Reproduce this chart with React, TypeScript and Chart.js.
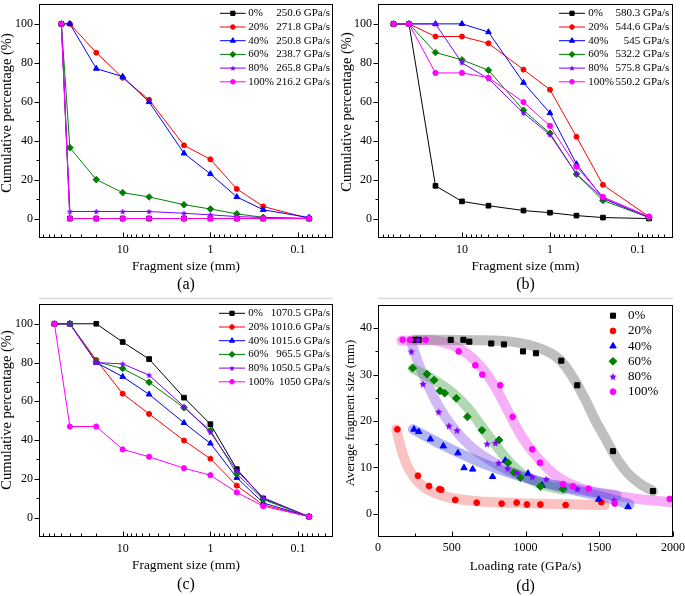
import React, { useEffect, useRef } from 'react';
import { Chart, registerables } from 'chart.js';

Chart.register(...registerables);

const FONT = '"Liberation Serif", "DejaVu Serif", serif';

// ---------- shared ----------
const groups = ['0%', '20%', '40%', '60%', '80%', '100%'];
const seriesColors = ['#000000', '#ff0000', '#0000ff', '#008000', '#8000ff', '#ff00ff'];
const bandColors = [
  'rgba(128,128,128,0.5)',
  'rgba(240,80,80,0.35)',
  'rgba(60,70,220,0.4)',
  'rgba(60,160,60,0.4)',
  'rgba(140,80,230,0.4)',
  'rgba(238,80,238,0.45)',
];

// ---------- panels (a)-(c): cumulative percentage vs fragment size ----------
const sizesA = [50, 40, 20, 10, 5, 2, 1, 0.5, 0.25, 0.075];
const sizesBC = [60, 40, 20, 10, 5, 2, 1, 0.5, 0.25, 0.075];

const a0 = [100, 0, 0, 0, 0, 0, 0, 0, 0, 0];
const a20 = [100, 100, 85.2, 72.3, 61, 37.6, 30.4, 15.2, 6.2, 0];
const a40 = [100, 100, 77, 72.9, 59.9, 33.5, 22.9, 11.1, 4.5, 0.5];
const a60 = [100, 36.4, 20, 13.3, 11.1, 7.1, 4.9, 2.4, 0.6, 0];
const a80 = [100, 3.6, 3.6, 3.6, 3.6, 2.7, 1.9, 1, 0.5, 0];
const a100 = [100, 0, 0, 0, 0, 0, 0, 0, 0, 0];
const ratesA = ['250.6', '271.8', '250.8', '238.7', '265.8', '216.2'];

const b0 = [100, 100, 16.8, 8.8, 6.6, 4.1, 3.0, 1.5, 0.5, 0];
const b20 = [100, 100, 93.5, 93.5, 90, 76.5, 66.2, 42, 17.3, 1];
const b40 = [100, 100, 100, 100, 95.8, 69.8, 54.2, 28, 10.4, 0.5];
const b60 = [100, 100, 85.3, 81.5, 76.2, 55.6, 43.8, 22.8, 9.3, 0.5];
const b80 = [100, 100, 100, 80, 71.8, 54.2, 43.1, 22.9, 10.5, 0.5];
const b100 = [100, 100, 74.8, 74.8, 72.4, 59.8, 47.6, 26.6, 11.1, 1];
const ratesB = ['580.3', '544.6', '545', '532.2', '575.8', '550.2'];

const c0 = [100, 100, 100, 90.6, 81.8, 61.9, 48.2, 25, 9.9, 0.5];
const c20 = [100, 100, 81.3, 63.9, 53.5, 39.8, 30.4, 16.5, 6.6, 0.5];
const c40 = [100, 100, 80, 72.7, 63.6, 48.9, 38.3, 20.6, 7.6, 0.5];
const c60 = [100, 100, 80.4, 76.9, 69.8, 56.7, 45, 22.6, 9.3, 0.5];
const c80 = [100, 100, 80, 79.3, 73.5, 57.3, 44, 24.3, 10.3, 0.5];
const c100 = [100, 47, 47, 35.2, 31.4, 25.5, 21.9, 13, 5.9, 0.5];
const ratesC = ['1070.5', '1010.6', '1015.6', '965.5', '1050.5', '1050'];

const logMajor = [10, 1, 0.1];
const logTicks = [0.05, 0.06, 0.07, 0.08, 0.09, 0.1, 0.2, 0.3, 0.4, 0.5, 0.6, 0.7, 0.8, 0.9,
  1, 2, 3, 4, 5, 6, 7, 8, 9, 10, 20, 30, 40, 50, 60, 70, 80];
const pctTicks = [0, 10, 20, 30, 40, 50, 60, 70, 80, 90, 100];

// ---------- panel (d): average fragment size vs loading rate ----------
const d0X = [249, 276, 493, 579, 619, 768, 854, 983, 1071, 1243, 1351, 1593, 1864];
const d0Y = [37.5, 37.5, 37.5, 37.5, 37.1, 36.7, 36.5, 35.0, 34.6, 33.0, 27.7, 13.5, 4.9];
const d20X = [131, 271, 346, 416, 429, 524, 669, 838, 940, 1010, 1101, 1272, 1514];
const d20Y = [18.2, 8.2, 6.0, 5.3, 5.2, 3.0, 2.4, 2.2, 2.4, 2.0, 2.0, 1.9, 2.5];
const d40X = [244, 276, 355, 443, 542, 583, 642, 777, 863, 1017, 1112, 1496, 1695];
const d40Y = [18.2, 17.7, 16.1, 14.6, 13.1, 9.9, 9.6, 8.0, 11.5, 8.7, 6.1, 3.1, 1.5];
const d60X = [235, 332, 380, 420, 452, 531, 606, 705, 820, 881, 922, 965, 1101, 1254];
const d60Y = [31.4, 30.1, 28.8, 26.5, 26.0, 24.9, 20.9, 18.0, 15.9, 11.0, 8.9, 7.8, 5.9, 5.4];
const d80X = [226, 271, 305, 411, 481, 536, 739, 796, 818, 879, 945, 1046, 1141, 1351, 1600];
const d80Y = [35.0, 37.5, 28.0, 22.0, 19.0, 18.0, 15.1, 15.3, 11.0, 9.8, 8.9, 8.0, 7.5, 5.4, 2.9];
const d100X = [167, 217, 323, 547, 660, 707, 829, 913, 1046, 1098, 1254, 1322, 1428, 1605, 1978];
const d100Y = [37.5, 37.5, 37.5, 35.0, 32.0, 30.0, 27.7, 20.9, 13.9, 11.0, 6.4, 5.9, 5.4, 2.2, 3.2];

// fitted trend bands
const fit0X = [250, 678, 949, 1085, 1198, 1266, 1333, 1401, 1469, 1537, 1605, 1695, 1785, 1865];
const fit0Y = [37.5, 37.4, 36.9, 35.8, 34.1, 32.0, 28.8, 24.9, 20.4, 16.5, 12.6, 8.7, 6.3, 4.9];
const fit20X = [124, 154, 192, 249, 339, 475, 678, 949, 1220, 1537];
const fit20Y = [18.2, 14.4, 10.8, 7.7, 5.2, 3.6, 2.7, 2.3, 2.1, 1.9];
const fit40X = [237, 452, 678, 904, 1130, 1356, 1582, 1706];
const fit40Y = [18.2, 14.6, 11.3, 8.7, 6.6, 4.9, 3.2, 2.0];
const fit60X = [237, 362, 497, 610, 701, 791, 881, 972, 1085, 1254];
const fit60Y = [31.3, 29.2, 26.3, 22.8, 18.9, 15.1, 11.5, 8.7, 6.6, 5.2];
const fit80X = [226, 271, 339, 418, 509, 622, 746, 881, 1040, 1220, 1401, 1618];
const fit80Y = [36.9, 32.7, 27.7, 22.8, 18.6, 14.7, 11.8, 9.4, 7.5, 6.1, 5.0, 4.0];
const fit100X = [158, 339, 497, 610, 701, 780, 848, 904, 972, 1040, 1119, 1209, 1311, 1424, 1582, 1763, 1989];
const fit100Y = [37.3, 37.4, 36.4, 34.4, 31.6, 28.1, 24.2, 20.7, 16.8, 13.7, 10.8, 8.2, 6.3, 5.0, 4.0, 3.2, 2.5];

const rateTicks = [0, 250, 500, 750, 1000, 1250, 1500, 1750, 2000];
const avgTicks = [0, 5, 10, 15, 20, 25, 30, 35, 40];

// ---------- helpers ----------
type Style = string | HTMLCanvasElement;

function makeStar(color: string, r: number): HTMLCanvasElement {
  const size = Math.ceil(r * 2) + 2;
  const c = document.createElement('canvas');
  c.width = size;
  c.height = size;
  const g = c.getContext('2d')!;
  g.translate(size / 2, size / 2 + r * 0.1);
  g.beginPath();
  for (let k = 0; k < 10; k++) {
    const rr = k % 2 === 0 ? r : r * 0.45;
    const a = -Math.PI / 2 + (k * Math.PI) / 5;
    const px = rr * Math.cos(a);
    const py = rr * Math.sin(a);
    if (k === 0) g.moveTo(px, py); else g.lineTo(px, py);
  }
  g.closePath();
  g.fillStyle = color;
  g.fill();
  return c;
}

function drawMarker(ctx: CanvasRenderingContext2D, style: Style, x: number, y: number, r: number, color: string) {
  ctx.save();
  if (typeof style !== 'string') {
    ctx.drawImage(style, x - style.width / 2, y - style.height / 2);
    ctx.restore();
    return;
  }
  ctx.fillStyle = color;
  ctx.strokeStyle = color;
  ctx.lineWidth = 1;
  ctx.beginPath();
  if (style === 'circle') {
    ctx.arc(x, y, r, 0, Math.PI * 2);
  } else if (style === 'rect') {
    const s = r * Math.SQRT1_2;
    ctx.rect(x - s, y - s, 2 * s, 2 * s);
  } else if (style === 'triangle') {
    ctx.moveTo(x, y - r);
    ctx.lineTo(x + 0.866 * r, y + 0.5 * r);
    ctx.lineTo(x - 0.866 * r, y + 0.5 * r);
    ctx.closePath();
  } else if (style === 'rectRot') {
    ctx.moveTo(x - r, y);
    ctx.lineTo(x, y - r);
    ctx.lineTo(x + r, y);
    ctx.lineTo(x, y + r);
    ctx.closePath();
  }
  ctx.fill();
  ctx.stroke();
  ctx.restore();
}

interface Decor {
  yTitle: string;
  yTitleX: number;
  yTitleY: number;
  yTitleSize: number;
  caption: string;
  captionY: number;
  separatorY?: number;
  legend: (ctx: CanvasRenderingContext2D) => void;
}

function decorPlugin(d: Decor) {
  return {
    id: 'decor',
    afterDraw(chart: any) {
      const ctx: CanvasRenderingContext2D = chart.ctx;
      const ca = chart.chartArea;
      const L = Math.round(ca.left) + 0.5;
      const R = Math.round(ca.right) - 0.5;
      const T = Math.round(ca.top) + 0.5;
      const B = Math.round(ca.bottom) - 0.5;
      ctx.save();
      ctx.strokeStyle = '#000';
      ctx.lineWidth = 1;
      ctx.strokeRect(L, T, R - L, B - T);
      const xs = chart.scales.x;
      const ys = chart.scales.y;
      ctx.beginPath();
      xs.ticks.forEach((t: any) => {
        const px = Math.round(xs.getPixelForValue(t.value)) + 0.5;
        const len = t.label ? 5 : 3;
        ctx.moveTo(px, B);
        ctx.lineTo(px, B - len);
      });
      ys.ticks.forEach((t: any) => {
        const py = Math.round(ys.getPixelForValue(t.value)) + 0.5;
        const len = t.label ? 5 : 3;
        ctx.moveTo(L, py);
        ctx.lineTo(L - len, py);
      });
      ctx.stroke();

      // y title
      ctx.save();
      ctx.translate(d.yTitleX, d.yTitleY);
      ctx.rotate(-Math.PI / 2);
      ctx.fillStyle = '#000';
      ctx.font = `${d.yTitleSize}px ${FONT}`;
      ctx.textAlign = 'center';
      ctx.textBaseline = 'middle';
      ctx.fillText(d.yTitle, 0, 0);
      ctx.restore();

      // caption
      ctx.fillStyle = '#000';
      ctx.font = `16px ${FONT}`;
      ctx.textAlign = 'center';
      ctx.textBaseline = 'middle';
      ctx.fillText(d.caption, (ca.left + ca.right) / 2, d.captionY);

      if (d.separatorY !== undefined) {
        ctx.strokeStyle = '#d9d9d9';
        ctx.lineWidth = 1.5;
        ctx.beginPath();
        ctx.moveTo(ca.left, d.separatorY);
        ctx.lineTo(ca.right, d.separatorY);
        ctx.stroke();
      }

      d.legend(ctx);
      ctx.restore();
    },
  };
}

interface CumPanel {
  W: number;
  H: number;
  left: number;
  right: number;
  bottom: number;
  sizes: number[];
  series: number[][];
  rates: string[];
  caption: string;
  titlePad: number;
  yTitleX: number;
  yTitleY: number;
  captionY: number;
  separatorY?: number;
  legX0: number;
  legX1: number;
  legText: number;
  legRight: number;
}

function makeCumulative(canvas: HTMLCanvasElement, p: CumPanel) {
  const star = makeStar(seriesColors[4], 3.4);
  const starLeg = makeStar(seriesColors[4], 3);
  const styles: Style[] = ['rect', 'circle', 'triangle', 'rectRot', star, 'circle'];
  const legStyles: Style[] = ['rect', 'circle', 'triangle', 'rectRot', starLeg, 'circle'];
  const radii = [3.3, 2.5, 3.3, 3.3, 3.4, 2.6];
  const legRadii = [3, 2.3, 3, 3, 3, 2.3];

  const datasets = p.series.map((vals, i) => ({
    label: groups[i],
    data: vals.map((v, k) => ({ x: p.sizes[k], y: v })),
    borderColor: seriesColors[i],
    backgroundColor: seriesColors[i],
    borderWidth: 1,
    pointStyle: styles[i] as any,
    pointRadius: radii[i],
    pointHoverRadius: radii[i],
    pointBackgroundColor: seriesColors[i],
    pointBorderColor: seriesColors[i],
    pointBorderWidth: 1,
    tension: 0,
    order: -i,
  }));

  const legend = (ctx: CanvasRenderingContext2D) => {
    ctx.save();
    ctx.font = `11px ${FONT}`;
    ctx.textBaseline = 'middle';
    groups.forEach((g, i) => {
      const y = 13.3 + 13.7 * i;
      ctx.strokeStyle = seriesColors[i];
      ctx.lineWidth = 1;
      ctx.beginPath();
      ctx.moveTo(p.legX0, y);
      ctx.lineTo(p.legX1, y);
      ctx.stroke();
      drawMarker(ctx, legStyles[i], (p.legX0 + p.legX1) / 2, y, legRadii[i], seriesColors[i]);
      ctx.fillStyle = '#000';
      ctx.textAlign = 'left';
      ctx.fillText(g, p.legText, y);
      ctx.textAlign = 'right';
      ctx.fillText(`${p.rates[i]} GPa/s`, p.legRight, y);
    });
    ctx.restore();
  };

  const tickFont = { family: FONT, size: 12 };
  return new Chart(canvas, {
    type: 'line',
    data: { datasets: datasets as any },
    options: {
      animation: false,
      responsive: false,
      events: [],
      layout: { padding: { left: 0, top: 1, right: p.W - p.right, bottom: 0 } },
      plugins: { legend: { display: false }, tooltip: { enabled: false } },
      scales: {
        x: {
          type: 'logarithmic',
          reverse: true,
          min: 0.04,
          max: 90,
          afterBuildTicks: (s: any) => {
            s.ticks = logTicks.map((v) => ({ value: v }));
          },
          afterFit: (s: any) => {
            s.height = p.H - p.bottom;
            s.paddingLeft = 0;
            s.paddingRight = 0;
          },
          ticks: {
            autoSkip: false,
            maxRotation: 0,
            padding: 5,
            color: '#000',
            font: tickFont,
            callback: (v: any) => (logMajor.includes(v) ? String(v) : ''),
          },
          grid: { display: false, drawTicks: false },
          border: { display: false },
          title: {
            display: true,
            text: 'Fragment size (mm)',
            color: '#000',
            font: { family: FONT, size: 13.3 },
            padding: { top: 0, bottom: p.titlePad },
          },
        } as any,
        y: {
          type: 'linear',
          min: -10,
          max: 110,
          afterBuildTicks: (s: any) => {
            s.ticks = pctTicks.map((v) => ({ value: v }));
          },
          afterFit: (s: any) => {
            s.width = p.left;
            s.paddingTop = 0;
            s.paddingBottom = 0;
          },
          ticks: {
            autoSkip: false,
            padding: 6,
            color: '#000',
            font: tickFont,
            callback: (v: any) => (v % 20 === 0 ? String(v) : ''),
          },
          grid: { display: false, drawTicks: false },
          border: { display: false },
        } as any,
      },
    },
    plugins: [
      decorPlugin({
        yTitle: 'Cumulative percentage (%)',
        yTitleX: p.yTitleX,
        yTitleY: p.yTitleY,
        yTitleSize: 14.5,
        caption: p.caption,
        captionY: p.captionY,
        separatorY: p.separatorY,
        legend,
      }) as any,
    ],
  });
}

function makeRatePanel(canvas: HTMLCanvasElement) {
  const W = 345, H = 296, left = 38, right = 333, bottom = 237;
  const star = makeStar(seriesColors[4], 4);
  const styles: Style[] = ['rect', 'circle', 'triangle', 'rectRot', star, 'circle'];
  const radii = [3.6, 2.9, 3.7, 3.9, 4, 2.9];
  const ptsX = [d0X, d20X, d40X, d60X, d80X, d100X];
  const ptsY = [d0Y, d20Y, d40Y, d60Y, d80Y, d100Y];
  const fitX = [fit0X, fit20X, fit40X, fit60X, fit80X, fit100X];
  const fitY = [fit0Y, fit20Y, fit40Y, fit60Y, fit80Y, fit100Y];

  const bands = fitX.map((xs, i) => ({
    label: `${groups[i]} fit`,
    data: xs.map((x, k) => ({ x, y: fitY[i][k] })),
    borderColor: bandColors[i],
    backgroundColor: bandColors[i],
    borderWidth: 10,
    borderCapStyle: 'round',
    borderJoinStyle: 'round',
    cubicInterpolationMode: 'monotone',
    pointRadius: 0,
    showLine: true,
    order: 10 + i,
  }));
  const pts = ptsX.map((xs, i) => ({
    label: groups[i],
    data: xs.map((x, k) => ({ x, y: ptsY[i][k] })),
    showLine: false,
    borderColor: seriesColors[i],
    backgroundColor: seriesColors[i],
    pointStyle: styles[i] as any,
    pointRadius: radii[i],
    pointHoverRadius: radii[i],
    pointBackgroundColor: seriesColors[i],
    pointBorderColor: seriesColors[i],
    pointBorderWidth: 1,
    order: -i,
  }));

  const legend = (ctx: CanvasRenderingContext2D) => {
    ctx.save();
    ctx.font = `13px ${FONT}`;
    ctx.textBaseline = 'middle';
    ctx.textAlign = 'left';
    groups.forEach((g, i) => {
      const y = 15.7 + 15.2 * i;
      drawMarker(ctx, styles[i], 273, y, radii[i], seriesColors[i]);
      ctx.fillStyle = '#000';
      ctx.fillText(g, 288, y);
    });
    ctx.restore();
  };

  const tickFont = { family: FONT, size: 12 };
  return new Chart(canvas, {
    type: 'line',
    data: { datasets: [...bands, ...pts] as any },
    options: {
      animation: false,
      responsive: false,
      events: [],
      layout: { padding: { left: 0, top: 1, right: W - right, bottom: 0 } },
      plugins: { legend: { display: false }, tooltip: { enabled: false } },
      scales: {
        x: {
          type: 'linear',
          min: 0,
          max: 2000,
          afterBuildTicks: (s: any) => {
            s.ticks = rateTicks.map((v) => ({ value: v }));
          },
          afterFit: (s: any) => {
            s.height = H - bottom;
            s.paddingLeft = 0;
            s.paddingRight = 0;
          },
          ticks: {
            autoSkip: false,
            maxRotation: 0,
            padding: 4,
            color: '#000',
            font: tickFont,
            callback: (v: any) => (v % 500 === 0 ? String(v) : ''),
          },
          grid: { display: false, drawTicks: false },
          border: { display: false },
          title: {
            display: true,
            text: 'Loading rate (GPa/s)',
            color: '#000',
            font: { family: FONT, size: 13.3 },
            padding: { top: 0, bottom: 22 },
          },
        } as any,
        y: {
          type: 'linear',
          min: -5,
          max: 45,
          afterBuildTicks: (s: any) => {
            s.ticks = avgTicks.map((v) => ({ value: v }));
          },
          afterFit: (s: any) => {
            s.width = left;
            s.paddingTop = 0;
            s.paddingBottom = 0;
          },
          ticks: {
            autoSkip: false,
            padding: 6,
            color: '#000',
            font: tickFont,
            callback: (v: any) => (v % 10 === 0 ? String(v) : ''),
          },
          grid: { display: false, drawTicks: false },
          border: { display: false },
        } as any,
      },
    },
    plugins: [
      decorPlugin({
        yTitle: 'Average fragment size (mm)',
        yTitleX: 11,
        yTitleY: 113,
        yTitleSize: 12.8,
        caption: '(d)',
        captionY: 287,
        legend,
      }) as any,
    ],
  });
}

export default function App() {
  const rA = useRef<HTMLCanvasElement>(null);
  const rB = useRef<HTMLCanvasElement>(null);
  const rC = useRef<HTMLCanvasElement>(null);
  const rD = useRef<HTMLCanvasElement>(null);

  useEffect(() => {
    const charts = [
      makeCumulative(rA.current!, {
        W: 340, H: 300, left: 39, right: 333, bottom: 238,
        sizes: sizesA, series: [a0, a20, a40, a60, a80, a100], rates: ratesA,
        caption: '(a)', titlePad: 25.3, yTitleX: 7.5, yTitleY: 113, captionY: 285, separatorY: 298.5,
        legX0: 220, legX1: 245.7, legText: 248.3, legRight: 330,
      }),
      makeCumulative(rB.current!, {
        W: 345, H: 300, left: 38, right: 333, bottom: 238,
        sizes: sizesBC, series: [b0, b20, b40, b60, b80, b100], rates: ratesB,
        caption: '(b)', titlePad: 25.3, yTitleX: 7, yTitleY: 112, captionY: 285, separatorY: 298.5,
        legX0: 219, legX1: 245, legText: 248.3, legRight: 329.3,
      }),
      makeCumulative(rC.current!, {
        W: 340, H: 296, left: 39, right: 333, bottom: 237,
        sizes: sizesBC, series: [c0, c20, c40, c60, c80, c100], rates: ratesC,
        caption: '(c)', titlePad: 23, yTitleX: 7.5, yTitleY: 110, captionY: 285,
        legX0: 219, legX1: 245, legText: 248.3, legRight: 330,
      }),
      makeRatePanel(rD.current!),
    ];
    let alive = true;
    const redraw = () => {
      if (alive) charts.forEach((c) => c.render());
    };
    if ((document as any).fonts && (document as any).fonts.ready) {
      (document as any).fonts.ready.then(redraw);
    }
    const t = setTimeout(redraw, 150);
    return () => {
      alive = false;
      clearTimeout(t);
      charts.forEach((c) => c.destroy());
    };
  }, []);

  const cs = (l: number, t: number): React.CSSProperties => ({ position: 'absolute', left: l, top: t, display: 'block' });
  return (
    <div style={{ position: 'fixed', left: 0, top: 0, width: 685, height: 596, background: '#fff', overflow: 'hidden' }}>
      <span style={{ position: 'absolute', left: -1000, top: -1000, fontFamily: FONT }}>Fragment size</span>
      <canvas ref={rA} width={340} height={300} style={cs(0, 0)} />
      <canvas ref={rB} width={345} height={300} style={cs(340, 0)} />
      <canvas ref={rC} width={340} height={296} style={cs(0, 300)} />
      <canvas ref={rD} width={345} height={296} style={cs(340, 300)} />
    </div>
  );
}
